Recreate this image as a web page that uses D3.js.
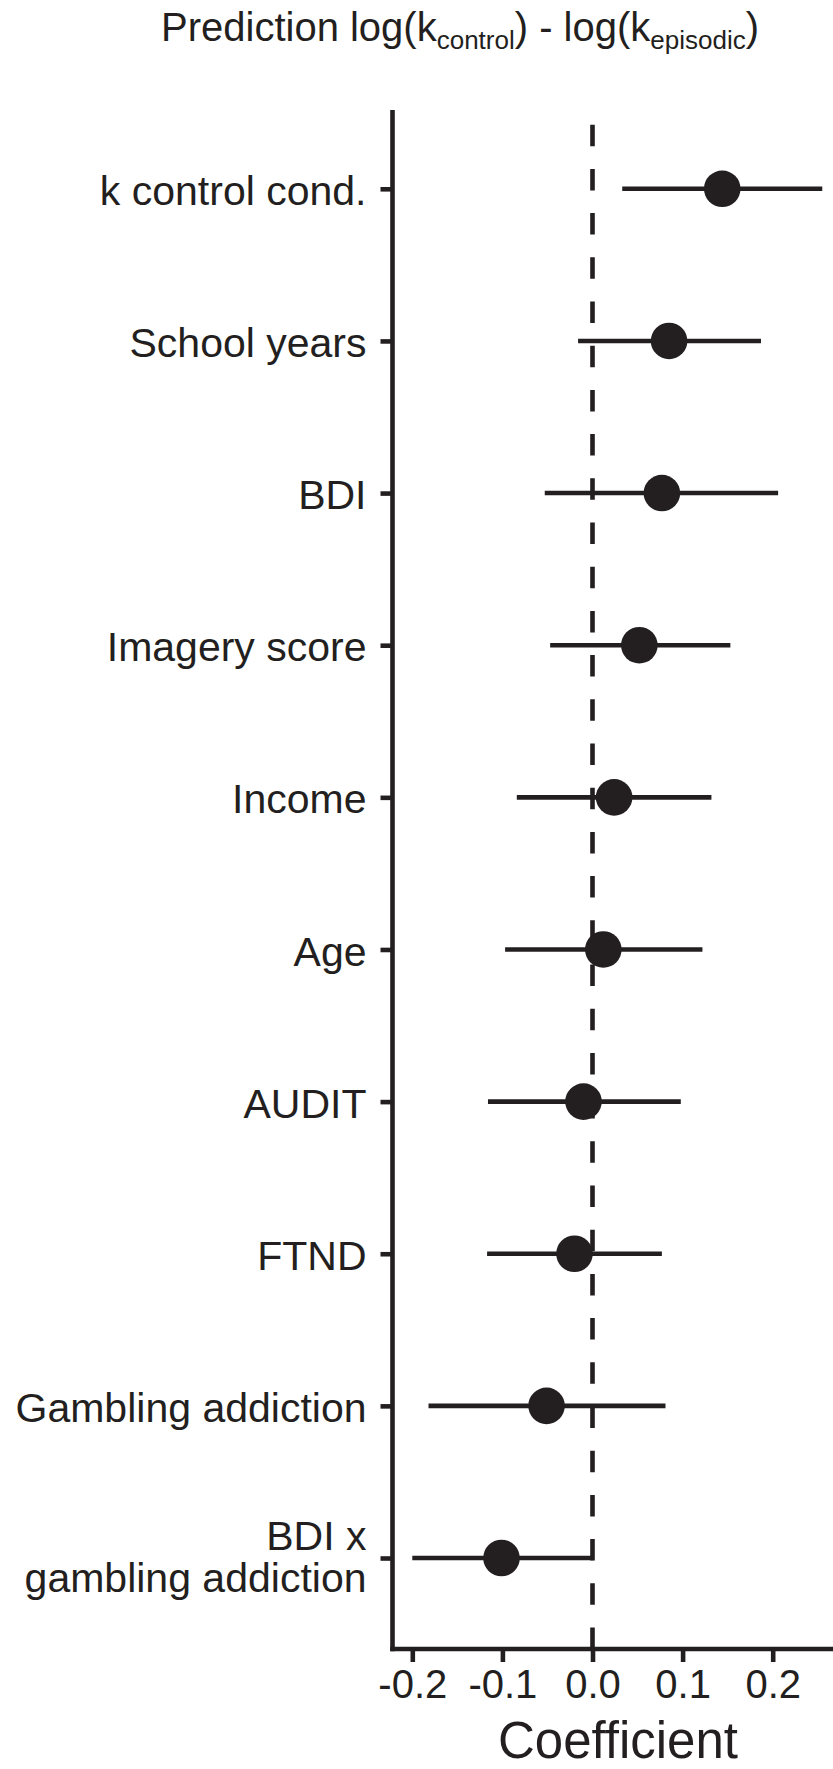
<!DOCTYPE html>
<html>
<head>
<meta charset="utf-8">
<script src="https://cdn.jsdelivr.net/npm/d3@7"></script>
<style>
  html, body { margin: 0; padding: 0; background: #fff; }
  svg { display: block; }
  text { font-family: "Liberation Sans", Arial, Helvetica, sans-serif; fill: #231f20; }
</style>
</head>
<body>
<svg id="chart" width="833" height="1769"></svg>
<script>
// ---- data ----
const categories = ["k control cond.", "School years", "BDI", "Imagery score", "Income",
                    "Age", "AUDIT", "FTND", "Gambling addiction", "BDI x\ngambling addiction"];
const estimates = [0.144, 0.085, 0.077, 0.052, 0.024, 0.012, -0.010, -0.020, -0.051, -0.101];
const lower     = [0.033, -0.016, -0.053, -0.047, -0.084, -0.097, -0.116, -0.117, -0.182, -0.200];
const upper     = [0.255, 0.187, 0.206, 0.153, 0.132, 0.122, 0.098, 0.077, 0.081, 0.001];
const xTicks = [-0.2, -0.1, 0.0, 0.1, 0.2];
const xTickLabels = ["-0.2", "-0.1", "0.0", "0.1", "0.2"];

const rows = categories.map((c, i) => ({ cat: c, est: estimates[i], lo: lower[i], hi: upper[i] }));

// ---- layout ----
const ink = "#231f20";
const panel = { left: 392.5, right: 833, top: 110, bottom: 1649 };

const svg = d3.select("#chart");

const x = d3.scaleLinear().domain([-0.2, 0.2]).range([412.3, 772.7]);
const y = d3.scalePoint().domain(categories).range([188.8, 1558]);

// dashed reference line at 0 (dash pattern starts at the bottom)
svg.append("line")
  .attr("x1", x(0)).attr("x2", x(0))
  .attr("y1", panel.bottom).attr("y2", panel.top)
  .attr("stroke", ink).attr("stroke-width", 4.6)
  .attr("stroke-dasharray", "21.5,22.7");

// error bars
svg.append("g").selectAll("line")
  .data(rows).join("line")
  .attr("x1", d => x(d.lo)).attr("x2", d => x(d.hi))
  .attr("y1", d => y(d.cat)).attr("y2", d => y(d.cat))
  .attr("stroke", ink).attr("stroke-width", 4.6);

// points
svg.append("g").selectAll("circle")
  .data(rows).join("circle")
  .attr("cx", d => x(d.est)).attr("cy", d => y(d.cat))
  .attr("r", 18.3).attr("fill", ink);

// ---- axes ----
const yAxis = d3.axisLeft(y).tickSize(12).tickSizeOuter(0).tickPadding(13);
const gy = svg.append("g").attr("transform", `translate(${panel.left},0)`).call(yAxis);
gy.select(".domain").remove();
gy.selectAll(".tick line").attr("stroke", ink).attr("stroke-width", 4.6);
gy.selectAll(".tick text")
  .attr("fill", ink).style("font-size", "41px")
  .attr("dy", null)
  .each(function(d) {
    const t = d3.select(this);
    const lines = d.split("\n");
    t.text(null);
    if (lines.length === 1) {
      t.append("tspan").attr("x", -26).attr("dy", "0.38em").text(lines[0]);
    } else {
      t.append("tspan").attr("x", -26).attr("dy", "-0.2em").text(lines[0]);
      t.append("tspan").attr("x", -26).attr("dy", "1.02em").text(lines[1]);
    }
  });

const xAxis = d3.axisBottom(x).tickValues(xTicks)
  .tickFormat((d, i) => xTickLabels[i]).tickSize(13).tickSizeOuter(0).tickPadding(8);
const gx = svg.append("g").attr("transform", `translate(0,${panel.bottom})`).call(xAxis);
gx.select(".domain").remove();
gx.selectAll(".tick line").attr("stroke", ink).attr("stroke-width", 4.6);
gx.selectAll(".tick text").attr("fill", ink).style("font-size", "40px").attr("dy", "0.71em");

// axis lines
svg.append("line")
  .attr("x1", panel.left).attr("x2", panel.left)
  .attr("y1", panel.top).attr("y2", panel.bottom + 2.3)
  .attr("stroke", ink).attr("stroke-width", 4.6);
svg.append("line")
  .attr("x1", panel.left - 2.3).attr("x2", panel.right)
  .attr("y1", panel.bottom).attr("y2", panel.bottom)
  .attr("stroke", ink).attr("stroke-width", 4.6);

// axis title
svg.append("text")
  .attr("x", 618).attr("y", 1758)
  .attr("text-anchor", "middle")
  .style("font-size", "51px")
  .text("Coefficient");

// title with subscripts
const title = svg.append("text")
  .attr("x", 161).attr("y", 41)
  .style("font-size", "40px");
title.append("tspan").text("Prediction log(k");
title.append("tspan").attr("dy", 8).style("font-size", "26px").text("control");
title.append("tspan").attr("dy", -8).text(") - log(k");
title.append("tspan").attr("dy", 8).style("font-size", "26px").text("episodic");
title.append("tspan").attr("dy", -8).text(")");
</script>
</body>
</html>
